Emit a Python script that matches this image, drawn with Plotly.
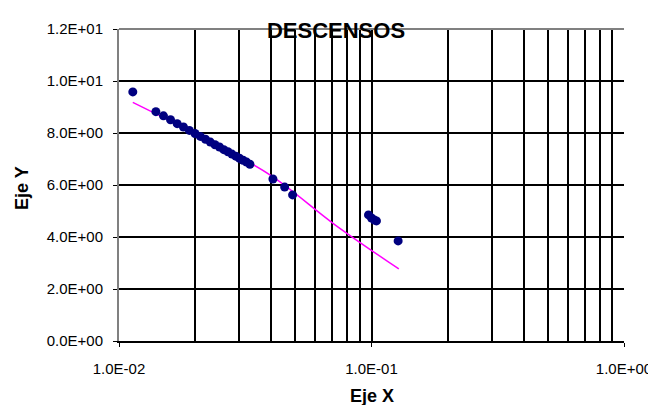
import plotly.graph_objects as go

# ---- data ----
x_vals = [0.01134, 0.0140, 0.0150, 0.0160, 0.0170, 0.0180, 0.0190, 0.0200, 0.0210,
          0.0220, 0.0230, 0.0240, 0.0250, 0.0260, 0.0270, 0.0280, 0.0290, 0.0300,
          0.0310, 0.0320, 0.0330, 0.0407, 0.0453, 0.0487, 0.0973, 0.1000, 0.1027,
          0.1046, 0.1275]
y_vals = [9.58, 8.82, 8.66, 8.51, 8.36, 8.23, 8.10, 7.98, 7.87,
          7.76, 7.65, 7.55, 7.46, 7.36, 7.28, 7.19, 7.11, 7.03,
          6.95, 6.88, 6.80, 6.23, 5.92, 5.62, 4.85, 4.73, 4.65,
          4.62, 3.85]

trend_x = [0.01134, 0.0223, 0.0400, 0.0717, 0.1283]
trend_y = [9.18, 7.74, 6.36, 4.47, 2.77]

x_major = [0.01, 0.1, 1]
x_major_text = ["1.0E-02", "1.0E-01", "1.0E+00"]
x_minor = [0.02, 0.03, 0.04, 0.05, 0.06, 0.07, 0.08, 0.09,
           0.2, 0.3, 0.4, 0.5, 0.6, 0.7, 0.8, 0.9]
y_ticks = [0, 2, 4, 6, 8, 10, 12]
y_text = ["0.0E+00", "2.0E+00", "4.0E+00", "6.0E+00", "8.0E+00", "1.0E+01", "1.2E+01"]

FONT = "Liberation Sans, Arial, sans-serif"

fig = go.Figure()
fig.add_trace(go.Scatter(x=trend_x, y=trend_y, mode="lines", line_shape="spline",
                         line=dict(color="#FF00FF", width=1.5), showlegend=False,
                         hoverinfo="skip"))
fig.add_trace(go.Scatter(x=x_vals, y=y_vals, mode="markers",
                         marker=dict(color="#000080", size=9, line=dict(width=0)),
                         showlegend=False))

fig.update_layout(
    width=656, height=405,
    margin=dict(l=111, r=33, t=20, b=72),
    paper_bgcolor="white", plot_bgcolor="white",
    font=dict(family=FONT, color="black", size=15),
    title=dict(text="<b>DESCENSOS</b>", x=0.5, xanchor="center", xref="container",
               y=1 - 22 / 405, yref="container", yanchor="middle",
               font=dict(size=22, family=FONT, color="black")),
    xaxis=dict(type="log", range=[-2, 0], tickvals=x_major, ticktext=x_major_text,
               showgrid=True, gridcolor="black", gridwidth=1.6,
               ticks="outside", ticklen=4, tickcolor="black",
               ticklabelstandoff=9,
               minor=dict(tickvals=x_minor, showgrid=True, gridcolor="black",
                          gridwidth=1.6, ticks=""),
               showline=True, linecolor="black", linewidth=1.6,
               zeroline=False, tickfont=dict(size=15)),
    yaxis=dict(range=[0, 12], tickvals=y_ticks, ticktext=y_text,
               showgrid=True, gridcolor="black", gridwidth=1.6,
               ticks="outside", ticklen=4, tickcolor="black",
               ticklabelstandoff=7,
               showline=True, linecolor="#808080", linewidth=2,
               zeroline=False, tickfont=dict(size=15)),
    shapes=[dict(type="line", xref="x domain", yref="y domain", x0=0, x1=1, y0=1, y1=1,
                 line=dict(color="#808080", width=2), layer="above")],
    annotations=[
        dict(text="<b>Eje X</b>", xref="paper", yref="paper", x=0.5, y=0,
             yshift=-55, showarrow=False, xanchor="center", yanchor="middle",
             font=dict(size=18, family=FONT, color="black")),
        dict(text="<b>Eje Y</b>", xref="paper", yref="paper", x=0, y=0.5,
             xshift=-97, yshift=-3, showarrow=False, xanchor="center", yanchor="middle",
             textangle=-90, font=dict(size=18, family=FONT, color="black")),
    ],
)

fig.write_html("out.html")
